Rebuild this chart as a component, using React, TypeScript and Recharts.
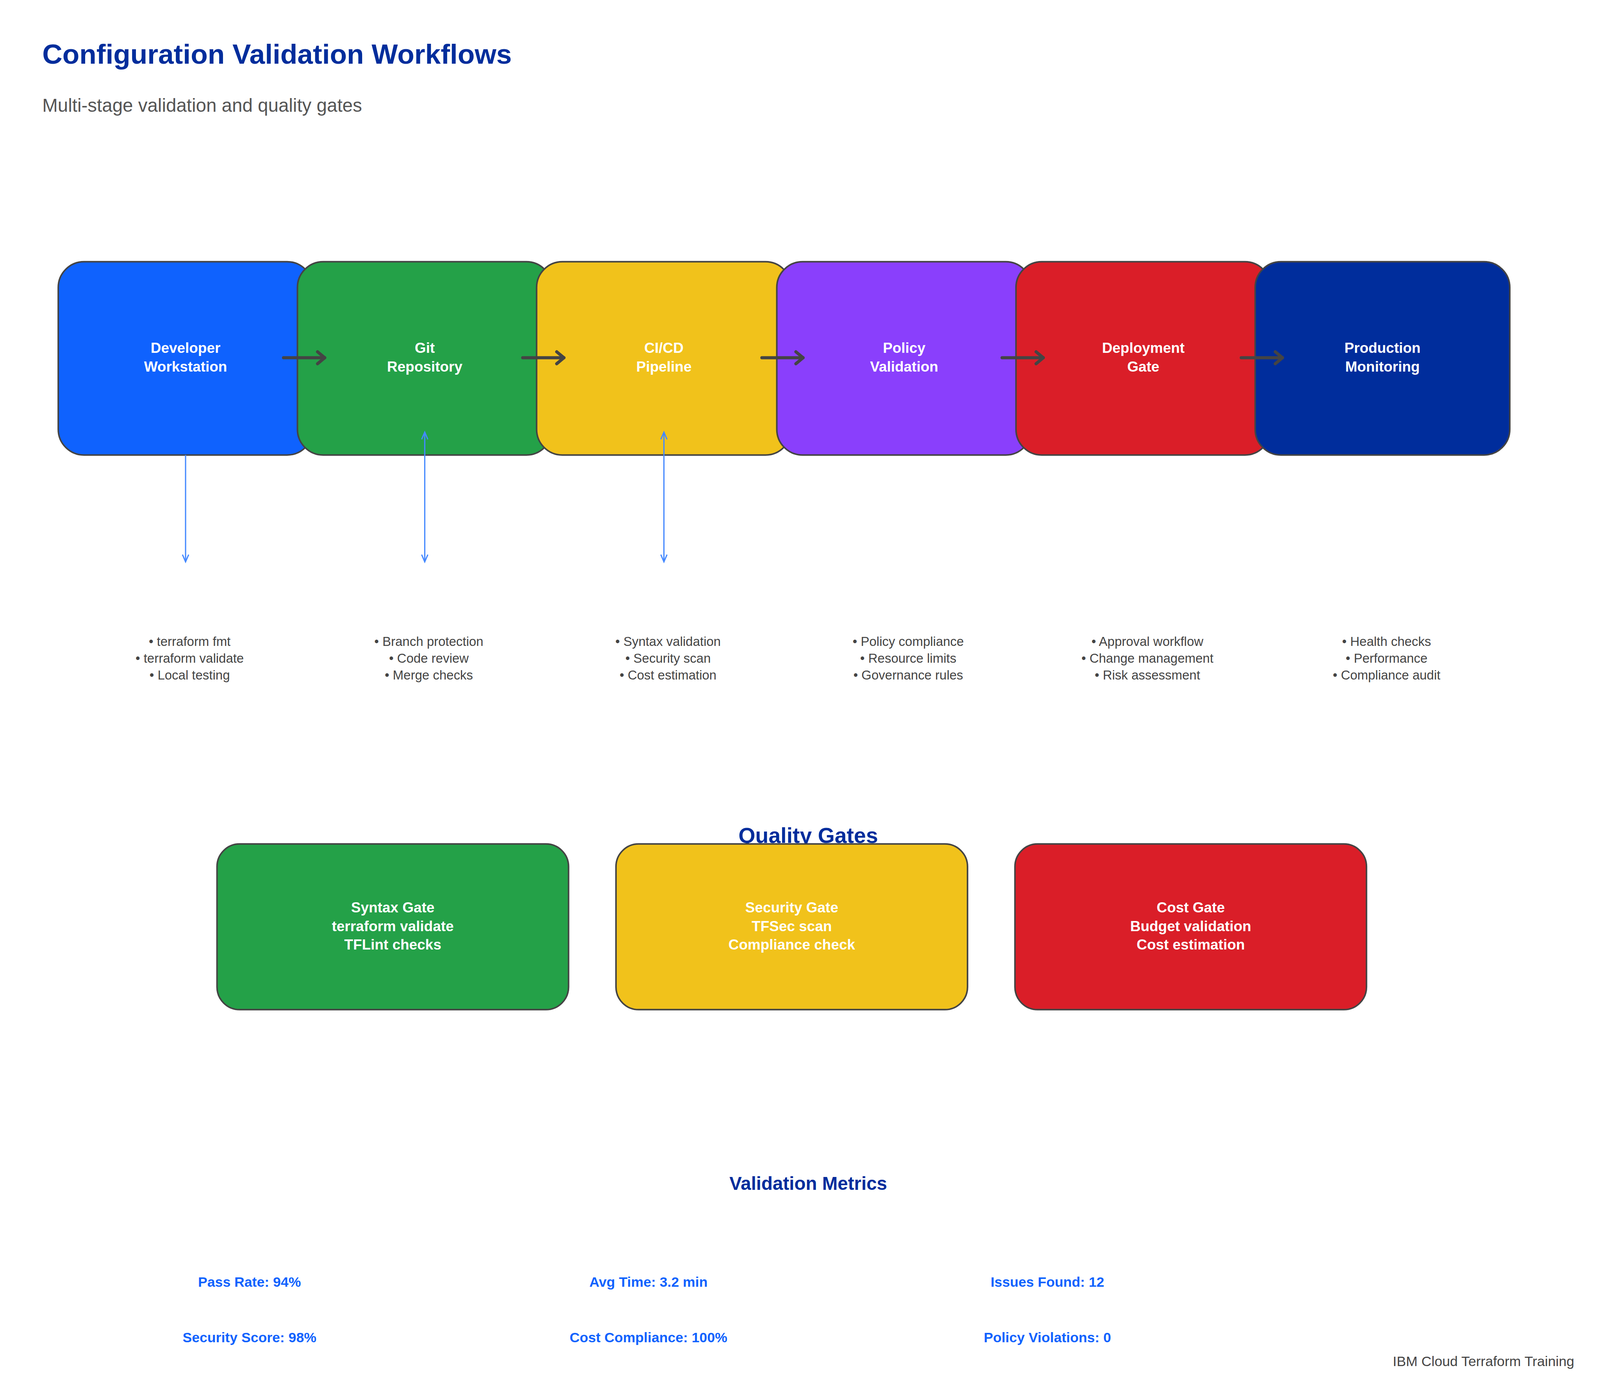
import React from "react";
import { ComposedChart, Scatter, XAxis, YAxis } from "recharts";

const W = (typeof window !== "undefined" && window.innerWidth) || 4770;
const H = (typeof window !== "undefined" && window.innerHeight) || 3570;
const UW = 1552, UH = 1162;
const k = W / UW;
const ky = H / UH;

const stageNames = [["Developer", "Workstation"], ["Git", "Repository"], ["CI/CD", "Pipeline"], ["Policy", "Validation"], ["Deployment", "Gate"], ["Production", "Monitoring"]];
const stageColors = ["#0f62fe", "#24a148", "#f1c21b", "#8a3ffc", "#da1e28", "#002d9c"];
const stageX = [180, 412, 644, 877, 1109, 1341];
const stageChecks = [
  ["• terraform fmt", "• terraform validate", "• Local testing"],
  ["• Branch protection", "• Code review", "• Merge checks"],
  ["• Syntax validation", "• Security scan", "• Cost estimation"],
  ["• Policy compliance", "• Resource limits", "• Governance rules"],
  ["• Approval workflow", "• Change management", "• Risk assessment"],
  ["• Health checks", "• Performance", "• Compliance audit"],
];
const connectorKind = ["down", "both", "both", "none", "none", "none"];
const gateNames = [["Syntax Gate", "terraform validate", "TFLint checks"], ["Security Gate", "TFSec scan", "Compliance check"], ["Cost Gate", "Budget validation", "Cost estimation"]];
const gateColors = ["#24a148", "#f1c21b", "#da1e28"];
const gateX = [381, 768, 1155];
const metricLabels = ["Pass Rate: 94%", "Avg Time: 3.2 min", "Issues Found: 12", "Security Score: 98%", "Cost Compliance: 100%", "Policy Violations: 0"];
const metricX = [242, 629, 1016, 242, 629, 1016];
const metricY = [1067, 1067, 1067, 1113, 1113, 1113];

const stageData = stageNames.map((n, i) => ({ x: stageX[i], y: 298, lines: n, color: stageColors[i], checks: stageChecks[i], conn: connectorKind[i], last: i === stageNames.length - 1 }));
const gateData = gateNames.map((n, i) => ({ x: gateX[i], y: 772, lines: n, color: gateColors[i] }));
const metricData = metricLabels.map((t, i) => ({ x: metricX[i], y: metricY[i], t }));

const FONT = "'Liberation Sans', Arial, sans-serif";

const StageShape = (p: any) => {
  const { cx, cy, payload } = p;
  const w = 247 * k, h = 161 * ky;
  const blue = "#4589ff";
  const head = (x: number, y: number, dir: number) => (
    <polyline points={`${x - 3 * k},${y - dir * 6 * ky} ${x},${y} ${x + 3 * k},${y - dir * 6 * ky}`} fill="none" stroke={blue} strokeWidth={1.2 * k} />
  );
  return (
    <g>
      <rect x={cx - w / 2} y={cy - 80 * ky} width={w} height={h} rx={25 * k} fill={payload.color} stroke="#444" strokeWidth={1.5 * k} />
      {payload.lines.map((l: string, j: number) => (
        <text key={j} x={cx} y={cy - 4 * ky + j * 15.5 * ky} textAnchor="middle" fontFamily={FONT} fontWeight="bold" fontSize={14 * k} fill="#fff">{l}</text>
      ))}
      {payload.checks.map((l: string, j: number) => (
        <text key={"c" + j} x={cx + 4 * k} y={cy + 240 * ky + j * 14 * ky} textAnchor="middle" fontFamily={FONT} fontSize={12.5 * k} fill="#444">{l}</text>
      ))}
      {payload.conn === "down" && (
        <g>
          <line x1={cx} y1={cy + 81 * ky} x2={cx} y2={cy + 170 * ky} stroke={blue} strokeWidth={1.2 * k} />
          {head(cx, cy + 170 * ky, 1)}
        </g>
      )}
      {payload.conn === "both" && (
        <g>
          <line x1={cx} y1={cy + 62 * ky} x2={cx} y2={cy + 170 * ky} stroke={blue} strokeWidth={1.2 * k} />
          {head(cx, cy + 170 * ky, 1)}
          {head(cx, cy + 62 * ky, -1)}
        </g>
      )}
    </g>
  );
};

const ArrowShape = (p: any) => {
  const { cx, cy, payload } = p;
  if (payload.last) return <g />;
  const x1 = cx + 95 * k, x2 = cx + 135 * k;
  return (
    <g stroke="#444" strokeWidth={3 * k} fill="none" strokeLinecap="round" strokeLinejoin="round">
      <line x1={x1} y1={cy} x2={x2} y2={cy} />
      <polyline points={`${x2 - 7 * k},${cy - 5 * ky} ${x2},${cy} ${x2 - 7 * k},${cy + 5 * ky}`} />
    </g>
  );
};

const GateShape = (p: any) => {
  const { cx, cy, payload } = p;
  const w = 341 * k, h = 138 * ky;
  return (
    <g>
      <rect x={cx - w / 2} y={cy - 69 * ky} width={w} height={h} rx={22 * k} fill={payload.color} stroke="#444" strokeWidth={1.5 * k} />
      {payload.lines.map((l: string, j: number) => (
        <text key={j} x={cx} y={cy - 12 * ky + j * 15.5 * ky} textAnchor="middle" fontFamily={FONT} fontWeight="bold" fontSize={14 * k} fill="#fff">{l}</text>
      ))}
    </g>
  );
};

const MetricShape = (p: any) => {
  const { cx, cy, payload } = p;
  return <text x={cx} y={cy + 5 * ky} textAnchor="middle" fontFamily={FONT} fontWeight="bold" fontSize={13.5 * k} fill="#0f62fe">{payload.t}</text>;
};

export default function App() {
  return (
    <div style={{ position: "absolute", left: 0, top: 0, width: W, height: H, background: "#fff", overflow: "hidden" }}>
      <ComposedChart width={W} height={H} margin={{ top: 0, right: 0, bottom: 0, left: 0 }}>
        <XAxis type="number" dataKey="x" domain={[0, UW]} hide />
        <YAxis type="number" dataKey="y" domain={[0, UH]} reversed hide />
        <Scatter data={stageData} shape={<StageShape />} isAnimationActive={false} />
        <Scatter data={stageData} shape={<ArrowShape />} isAnimationActive={false} />
        <Scatter data={gateData} shape={<GateShape />} isAnimationActive={false} />
        <Scatter data={metricData} shape={<MetricShape />} isAnimationActive={false} />
        <text x={41 * k} y={53 * ky} fontFamily={FONT} fontWeight="bold" fontSize={27 * k} fill="#002d9c">Configuration Validation Workflows</text>
        <text x={41 * k} y={93 * ky} fontFamily={FONT} fontSize={18 * k} fill="#555">Multi-stage validation and quality gates</text>
        <text x={784 * k} y={702 * ky} textAnchor="middle" fontFamily={FONT} fontWeight="bold" fontSize={21 * k} fill="#002d9c">Quality Gates</text>
        <text x={784 * k} y={991 * ky} textAnchor="middle" fontFamily={FONT} fontWeight="bold" fontSize={18 * k} fill="#002d9c">Validation Metrics</text>
        <text x={1527 * k} y={1138 * ky} textAnchor="end" fontFamily={FONT} fontSize={13.5 * k} fill="#444">IBM Cloud Terraform Training</text>
      </ComposedChart>
    </div>
  );
}
